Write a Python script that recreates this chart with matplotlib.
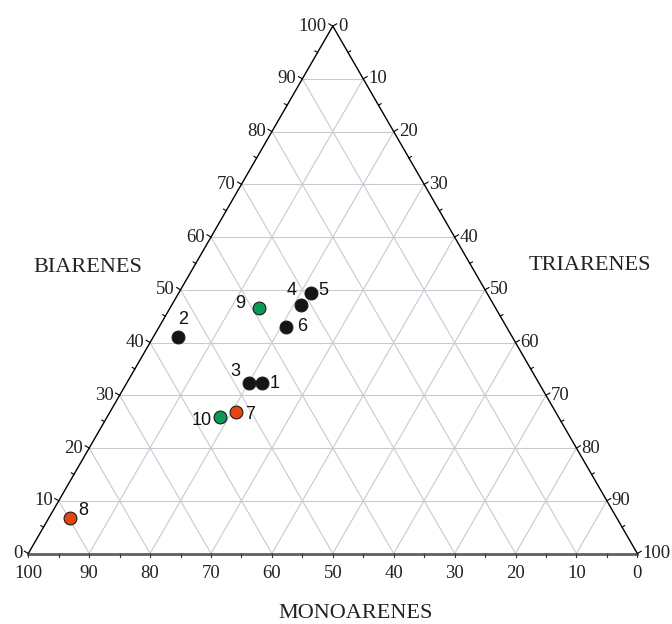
import numpy as np
import matplotlib
matplotlib.use("Agg")
import matplotlib.pyplot as plt

# sample compositions (%)
samples = ["1", "2", "3", "4", "5", "6", "7", "8", "9", "10"]
mono = [45.5, 54.8, 47.6, 31.6, 28.9, 36.2, 52.4, 89.8, 38.9, 55.7]
bi = [32.3, 41.1, 32.3, 47.1, 49.3, 43.0, 26.9, 6.7, 46.6, 25.8]
tri = [22.2, 4.1, 20.1, 21.3, 21.8, 20.8, 20.7, 3.5, 14.5, 18.5]
colors = ["#151515", "#151515", "#151515", "#151515", "#151515",
          "#151515", "#e8450f", "#e8450f", "#0b9a55", "#0b9a55"]
label_offsets = [(13, 0), (5, -17), (-14, -12), (-10, -15), (12, -3),
                 (16, 0), (14, 3), (13, -8), (-18, -4), (-18, 3)]

ticks = [0, 10, 20, 30, 40, 50, 60, 70, 80, 90, 100]

# triangle geometry in pixels
X0, Y0 = 28.3, 553.5
W = 609.0
H = W * np.sqrt(3) / 2


def to_xy(b, t):
    x = X0 + (t + b / 2) / 100 * W
    y = Y0 - b / 100 * H
    return x, y


fig = plt.figure(figsize=(6.72, 6.24), dpi=100)
ax = fig.add_axes([0, 0, 1, 1])
ax.set_xlim(0, 672)
ax.set_ylim(624, 0)
ax.axis("off")

grid_c = "#c9c9d2"
for v in range(10, 100, 10):
    # bi constant
    p1 = to_xy(v, 0); p2 = to_xy(v, 100 - v)
    ax.plot([p1[0], p2[0]], [p1[1], p2[1]], color=grid_c, lw=0.8, zorder=1)
    # tri constant
    p1 = to_xy(0, v); p2 = to_xy(100 - v, v)
    ax.plot([p1[0], p2[0]], [p1[1], p2[1]], color=grid_c, lw=0.8, zorder=1)
    # mono constant
    p1 = to_xy(0, 100 - v); p2 = to_xy(100 - v, 0)
    ax.plot([p1[0], p2[0]], [p1[1], p2[1]], color=grid_c, lw=0.8, zorder=1)

L = to_xy(0, 0); R = to_xy(0, 100); T = to_xy(100, 0)
ax.plot([L[0], T[0], R[0]], [L[1], T[1], R[1]], color="black", lw=1.0, zorder=2)
ax.plot([L[0], R[0]], [L[1], R[1]], color="#606060", lw=2.0, zorder=2)

serif = "Liberation Serif"
tfs = 13.5
c30, s30 = np.cos(np.pi / 6), np.sin(np.pi / 6)
for v in range(0, 101, 5):
    ln = 4.5 if v % 10 == 0 else 3
    # left axis (biarenes)
    x, y = to_xy(v, 0)
    ax.plot([x, x - ln * c30], [y, y - ln * s30], color="black", lw=0.8)
    # right axis (triarenes)
    x, y = to_xy(100 - v, v)
    ax.plot([x, x + ln * c30], [y, y - ln * s30], color="black", lw=0.8)
    # bottom axis (monoarenes)
    x, y = to_xy(0, v)
    ax.plot([x, x], [y, y + 3], color="#333333", lw=0.8)

for v in ticks:
    x, y = to_xy(v, 0)
    ax.text(x - 6, y, str(v), ha="right", va="center", fontsize=tfs,
            family=serif, color="#222222")
    x, y = to_xy(100 - v, v)
    ax.text(x + 5, y, str(v), ha="left", va="center", fontsize=tfs,
            family=serif, color="#222222")
    x, y = to_xy(0, 100 - v)
    ax.text(x, y + 20, str(v), ha="center", va="center", fontsize=tfs,
            family=serif, color="#222222")

ax.text(87.5, 268, "BIARENES", ha="center", va="center", fontsize=16,
        family=serif, color="#222222")
ax.text(590, 266, "TRIARENES", ha="center", va="center", fontsize=16,
        family=serif, color="#222222")
ax.text(356, 613, "MONOARENES", ha="center", va="center", fontsize=16,
        family=serif, color="#222222")

for i in range(len(samples)):
    x, y = to_xy(bi[i], tri[i])
    ax.scatter([x], [y], s=85, color=colors[i], edgecolor="#1a1a1a",
               linewidth=0.8, zorder=4)
    dx, dy = label_offsets[i]
    ax.text(x + dx, y + dy, samples[i], ha="center", va="center",
            fontsize=13, family="Liberation Sans", color="#111111", zorder=5)

fig.savefig("out.png", dpi=100)
